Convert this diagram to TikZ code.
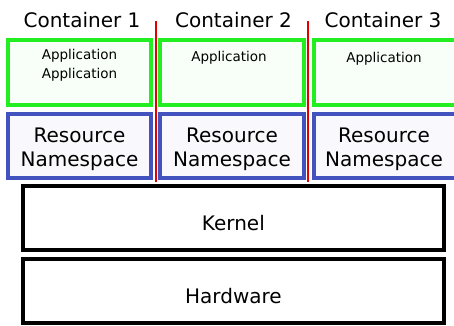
\documentclass[tikz,border=0pt]{standalone}
\usepackage{fontspec}
\setmainfont{DejaVu Sans}

\definecolor{appgreen}{RGB}{34,238,34}
\definecolor{appfill}{RGB}{248,255,248}
\definecolor{nsblue}{RGB}{66,82,190}
\definecolor{nsfill}{RGB}{248,248,253}
\definecolor{sepred}{RGB}{228,0,0}

\begin{document}
\begin{tikzpicture}[x=1pt,y=-1pt,
  appbox/.style={draw=appgreen, fill=appfill, line width=4pt,
    minimum width=144pt, minimum height=65pt, inner sep=0pt, outer sep=0pt},
  nsbox/.style={draw=nsblue, fill=nsfill, line width=4pt,
    minimum width=144pt, minimum height=64pt, inner sep=0pt, outer sep=0pt},
  layerbox/.style={draw=black, line width=4pt,
    minimum width=421pt, minimum height=64pt, inner sep=0pt, outer sep=0pt},
  bigtext/.style={font=\fontsize{20}{24}\selectfont, inner sep=0pt, align=center},
  apptext/.style={font=\fontsize{13.5}{18}\selectfont, inner sep=0pt, anchor=base},
  divider/.style={draw=sepred, line width=2pt}]

  \useasboundingbox (0,0) rectangle (454,325);
  \clip (0,0) rectangle (454,325);

  % container titles
  \node[bigtext, anchor=base] (t1) at (82,27) {Container 1};
  \node[bigtext, anchor=base] (t2) at (233.5,27) {Container 2};
  \node[bigtext, anchor=base] (t3) at (383,27) {Container 3};

  % application layer
  \node[appbox, minimum width=143pt] (g1) at (79.5,72.5) {};
  \node[appbox] (g2) at (232,72.5) {};
  \node[appbox] (g3) at (386,72.5) {};
  \node[apptext] (a1) at (79.5,59) {Application};
  \node[apptext] (a1b) at (79.5,78) {Application};
  \node[apptext] (a2) at (229,61) {Application};
  \node[apptext] (a3) at (384,62) {Application};

  % resource namespaces
  \node[nsbox, minimum width=143pt] (n1) at (79.5,146) {};
  \node[nsbox] (n2) at (232,146) {};
  \node[nsbox] (n3) at (386,146) {};
  \node[bigtext] (r1) at (79.5,149.3) {Resource\\Namespace};
  \node[bigtext] (r2) at (232,149.3) {Resource\\Namespace};
  \node[bigtext] (r3) at (384,149.3) {Resource\\Namespace};

  % shared layers
  \node[layerbox] (kern) at (233.4,218) {};
  \node[layerbox] (hw) at (233.4,291) {};
  \node[bigtext, anchor=base] (kt) at (233.4,230) {Kernel};
  \node[bigtext, anchor=base] (ht) at (233.4,303) {Hardware};

  % separators between containers
  \coordinate (d1a) at (156,21);
  \coordinate (d1b) at (156,182);
  \coordinate (d2a) at (308,21);
  \coordinate (d2b) at (308,182);
  \draw[divider] (d1a) -- (d1b);
  \draw[divider] (d2a) -- (d2b);
\end{tikzpicture}
\end{document}
